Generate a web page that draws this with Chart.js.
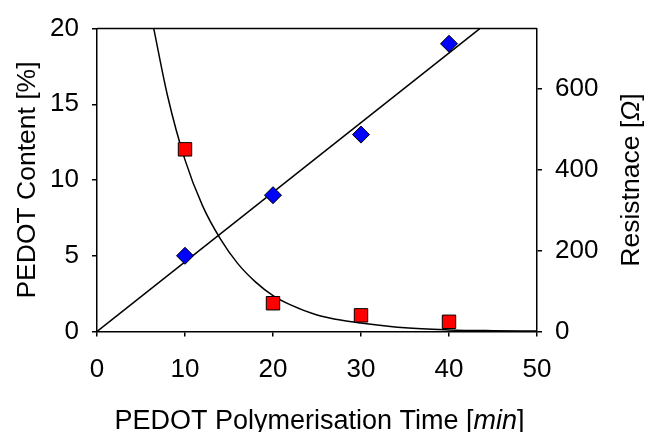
<!DOCTYPE html>
<html lang="en">
<head>
<meta charset="UTF-8">
<title>PEDOT content and resistance</title>
<script src="https://cdn.jsdelivr.net/npm/chart.js"></script>
<style>
  html, body { margin: 0; padding: 0; background: #fff; }
</style>
</head>
<body>
<canvas id="chart" width="646" height="432"></canvas>
<script>
// measured points
const times = [10, 20, 30, 40];              // min
const pedotContent = [5, 9, 13, 19];         // %
const resistance = [451, 70, 40, 24];        // Ohm

// trend lines
const linFitX = [0, 43.5];
const linFitY = [0, 20];
const expFitX = [6.45, 8, 10, 12, 14, 16, 18, 20, 22, 25, 28, 30, 35, 40, 45, 50];
const expFitY = [750, 585, 425, 311, 230, 168, 123, 89, 66, 41, 27, 21, 9, 4, 2, 1];

const xTicks = [0, 10, 20, 30, 40, 50];
const leftTicks = [0, 5, 10, 15, 20];
const rightTicks = [0, 200, 400, 600];

const FONT = '"Liberation Sans", Arial, sans-serif';
const pts = (xs, ys) => xs.map((x, i) => ({ x: x, y: ys[i] }));

// axis titles with italic units
function drawParts(ctx, parts, cx, baseY, rot, size) {
  ctx.save();
  ctx.translate(cx, baseY);
  ctx.rotate(rot);
  ctx.textBaseline = 'alphabetic';
  ctx.textAlign = 'left';
  const fonts = parts.map(p => (p[1] ? 'italic ' : '') + size + 'px ' + FONT);
  const widths = parts.map((p, i) => { ctx.font = fonts[i]; return ctx.measureText(p[0]).width; });
  let x = -widths.reduce((s, w) => s + w, 0) / 2;
  parts.forEach((p, i) => {
    ctx.font = fonts[i];
    ctx.fillText(p[0], x, 0);
    x += widths[i];
  });
  ctx.restore();
}

const frame = {
  id: 'frame',
  afterDraw(chart) {
    const ctx = chart.ctx, a = chart.chartArea;
    ctx.save();
    ctx.strokeStyle = '#000';
    ctx.lineWidth = 1.5;
    ctx.beginPath();
    ctx.moveTo(a.left, a.top);
    ctx.lineTo(a.right, a.top);
    ctx.stroke();
    ctx.fillStyle = '#000';
    const midY = (a.top + a.bottom) / 2;
    drawParts(ctx, [['PEDOT Polymerisation Time [', false], ['min', true], [']', false]], 319.5, 428.5, 0, 27);
    drawParts(ctx, [['PEDOT Content [%]', false]], 34.5, midY, -Math.PI / 2, 26.5);
    drawParts(ctx, [['Resistnace [', false], ['\u03A9', true], [']', false]], 638.5, midY, -Math.PI / 2, 26.5);
    ctx.restore();
  }
};

const keepTicks = list => scale => {
  scale.ticks = scale.ticks.filter(t => list.includes(t.value));
};

const axisCommon = {
  border: { display: true, color: '#000', width: 1.5 },
  grid: { drawOnChartArea: false, drawTicks: true, tickLength: 5, color: '#000', lineWidth: 1.5 },
  title: { display: false }
};

new Chart(document.getElementById('chart'), {
  type: 'scatter',
  data: {
    datasets: [
      {
        label: 'PEDOT content',
        data: pts(times, pedotContent),
        yAxisID: 'y',
        pointStyle: 'rectRot',
        pointRadius: 8.5,
        backgroundColor: '#0000FF',
        borderColor: '#000',
        borderWidth: 1
      },
      {
        label: 'Resistance',
        data: pts(times, resistance),
        yAxisID: 'y1',
        pointStyle: 'rect',
        pointRadius: 9.5,
        backgroundColor: '#FF0000',
        borderColor: '#000',
        borderWidth: 1
      },
      {
        type: 'line',
        label: 'Linear fit',
        data: pts(linFitX, linFitY),
        yAxisID: 'y',
        borderColor: '#000',
        borderWidth: 1.5,
        pointRadius: 0,
        fill: false
      },
      {
        type: 'line',
        label: 'Exponential fit',
        data: pts(expFitX, expFitY),
        yAxisID: 'y1',
        borderColor: '#000',
        borderWidth: 1.5,
        pointRadius: 0,
        cubicInterpolationMode: 'monotone',
        fill: false
      }
    ]
  },
  options: {
    responsive: false,
    animation: false,
    layout: { padding: { top: 24, left: 0, right: 0, bottom: 0 } },
    plugins: { legend: { display: false }, tooltip: { enabled: false } },
    scales: {
      x: {
        ...axisCommon,
        type: 'linear',
        position: 'bottom',
        min: 0, max: 50,
        afterBuildTicks: keepTicks(xTicks),
        afterFit: s => { s.height = 100.5; },
        ticks: { stepSize: 10, padding: 18, color: '#000', font: { family: FONT, size: 26 }, maxRotation: 0 }
      },
      y: {
        ...axisCommon,
        position: 'left',
        min: 0, max: 20,
        afterBuildTicks: keepTicks(leftTicks),
        afterFit: s => { s.width = 97; },
        ticks: { stepSize: 5, padding: 13, color: '#000', font: { family: FONT, size: 26 } }
      },
      y1: {
        ...axisCommon,
        position: 'right',
        min: 0, max: 750,
        afterBuildTicks: keepTicks(rightTicks),
        afterFit: s => { s.width = 109; },
        ticks: { stepSize: 200, padding: 13, color: '#000', font: { family: FONT, size: 26 } }
      }
    }
  },
  plugins: [frame]
});
</script>
</body>
</html>
